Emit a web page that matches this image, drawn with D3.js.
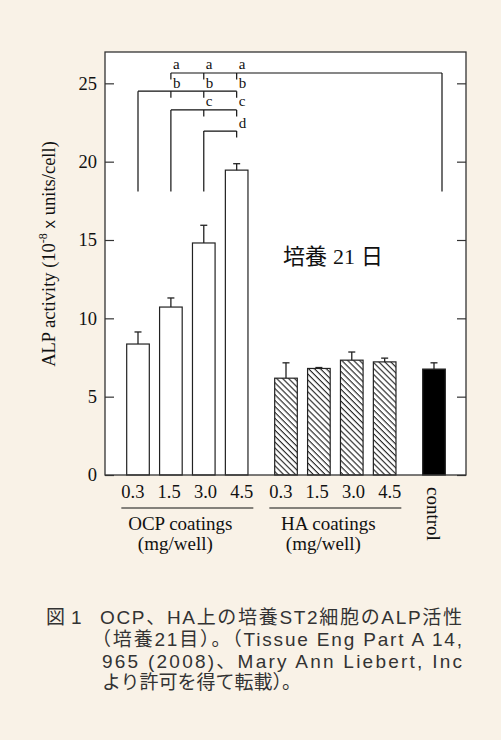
<!DOCTYPE html>
<html>
<head>
<meta charset="utf-8">
<script src="https://cdn.jsdelivr.net/npm/d3@7"></script>
<style>
  html, body { margin: 0; padding: 0; background: #f9f2e7; }
  svg { display: block; }
</style>
</head>
<body>
<script>
// ---------- data ----------
const doseLabels = ["0.3", "1.5", "3.0", "4.5"];
const ocpMeans   = [8.36, 10.72, 14.81, 19.46];
const ocpErrors  = [0.77, 0.58, 1.13, 0.41];
const haMeans    = [6.18, 6.80, 7.33, 7.22];
const haErrors   = [0.98, 0.06, 0.52, 0.24];
const controlMeans  = [6.76];
const controlErrors = [0.40];
const yTicks = [0, 5, 10, 15, 20, 25];
const groupTitles = ["OCP coatings", "HA coatings"];
const unitLabel = "(mg/well)";
const dayLabel = ["培養", "21", "日"];
// significance brackets (levels in data units)
const sigLetters = ["a", "b", "c", "d"];
const sigRefs    = ["control", "OCP 0.3", "OCP 1.5", "OCP 3.0"];
const sigTargets = [["OCP 1.5", "OCP 3.0", "OCP 4.5"], ["OCP 1.5", "OCP 3.0", "OCP 4.5"], ["OCP 3.0", "OCP 4.5"], ["OCP 4.5"]];
const sigLevels  = [25.66, 24.5, 23.3, 21.95];
const sigBase = 18.1;
const captionHead = ["図", "1"];
const captionLines = [
  "OCP、HA上の培養ST2細胞のALP活性",
  "（培養21目）。（Tissue Eng Part A 14,",
  "965 (2008)、Mary Ann Liebert, Inc",
  "より許可を得て転載）。"
];

// ---------- build bar table ----------
const bars = [];
doseLabels.forEach((d, i) => bars.push({key: "OCP " + d, group: "OCP", i, mean: ocpMeans[i], err: ocpErrors[i], slot: 2 * i}));
doseLabels.forEach((d, i) => bars.push({key: "HA " + d, group: "HA", i, mean: haMeans[i], err: haErrors[i], slot: 9 + 2 * i}));
bars.push({key: "control", group: "control", i: 0, mean: controlMeans[0], err: controlErrors[0], slot: 18});
const byKey = Object.fromEntries(bars.map(b => [b.key, b]));

const W = 501, H = 740;
const plot = {left: 105, right: 466, top: 52, bottom: 475};

const svg = d3.select("body").append("svg").attr("width", W).attr("height", H);
svg.append("rect").attr("width", W).attr("height", H).attr("fill", "#f9f2e7");

const defs = svg.append("defs");
const pat = defs.append("pattern").attr("id", "hatch").attr("patternUnits", "userSpaceOnUse")
  .attr("width", 4.2).attr("height", 4.2).attr("patternTransform", "rotate(45)");
pat.append("rect").attr("width", 4.2).attr("height", 4.2).attr("fill", "#fff");
pat.append("line").attr("x1", 0).attr("y1", 0.6).attr("x2", 4.2).attr("y2", 0.6).attr("stroke", "#111").attr("stroke-width", 1.05);

const y = d3.scaleLinear().domain([0, 27]).range([plot.bottom, plot.top]);
const x = d3.scaleLinear().domain([0, 18]).range([138, 434]);
const barW = (x(1) - x(0)) * 1.375;
const serif = "'Liberation Serif', 'Times New Roman', serif";

// plot background
svg.append("rect").attr("x", plot.left).attr("y", plot.top)
  .attr("width", plot.right - plot.left).attr("height", plot.bottom - plot.top).attr("fill", "#fff");

// bars
const fillFor = g => g === "OCP" ? "#fff" : g === "HA" ? "url(#hatch)" : "#000";
svg.append("g").selectAll("rect").data(bars).join("rect")
  .attr("x", d => x(d.slot) - barW / 2)
  .attr("y", d => y(d.mean))
  .attr("width", barW)
  .attr("height", d => y(0) - y(d.mean))
  .attr("fill", d => fillFor(d.group))
  .attr("stroke", "#222").attr("stroke-width", 1.2);

// error bars
const eb = svg.append("g").attr("stroke", "#222").attr("stroke-width", 1.3);
eb.selectAll("line.v").data(bars).join("line").attr("class", "v")
  .attr("x1", d => x(d.slot)).attr("x2", d => x(d.slot))
  .attr("y1", d => y(d.mean)).attr("y2", d => y(d.mean + d.err));
eb.selectAll("line.c").data(bars).join("line").attr("class", "c")
  .attr("x1", d => x(d.slot) - 3.5).attr("x2", d => x(d.slot) + 3.5)
  .attr("y1", d => y(d.mean + d.err)).attr("y2", d => y(d.mean + d.err));

// axes
const axL = d3.axisLeft(y).tickValues(yTicks).tickSizeInner(-9).tickSizeOuter(0).tickPadding(8);
const gL = svg.append("g").attr("transform", `translate(${plot.left},0)`).call(axL);
gL.select(".domain").remove();
gL.selectAll("line").attr("stroke", "#333").attr("stroke-width", 1.2);
gL.selectAll("text").attr("font-family", serif).attr("font-size", 18.5).attr("fill", "#111");
const axR = d3.axisRight(y).tickValues(yTicks).tickSizeInner(-9).tickSizeOuter(0).tickFormat("");
const gR = svg.append("g").attr("transform", `translate(${plot.right},0)`).call(axR);
gR.select(".domain").remove();
gR.selectAll("line").attr("stroke", "#333").attr("stroke-width", 1.2);

// frame
svg.append("rect").attr("x", plot.left).attr("y", plot.top)
  .attr("width", plot.right - plot.left).attr("height", plot.bottom - plot.top)
  .attr("fill", "none").attr("stroke", "#333").attr("stroke-width", 1.3);

// significance brackets
const sg = svg.append("g");
const drop = 6.5;
const refX = k => k === "control" ? x(byKey[k].slot) + 8 : x(byKey[k].slot);
sigLetters.forEach((L, j) => {
  const ly = y(sigLevels[j]);
  const rx = refX(sigRefs[j]);
  const txs = sigTargets[j].map(k => x(byKey[k].slot));
  const allX = [rx, ...txs];
  const x0 = d3.min(allX), x1 = d3.max(allX);
  sg.append("line").attr("x1", x0).attr("x2", x1).attr("y1", ly).attr("y2", ly)
    .attr("stroke", "#111").attr("stroke-width", 1.2);
  sg.append("line").attr("x1", rx).attr("x2", rx).attr("y1", ly).attr("y2", y(sigBase))
    .attr("stroke", "#111").attr("stroke-width", 1.2);
  txs.forEach(tx => {
    sg.append("line").attr("x1", tx).attr("x2", tx).attr("y1", ly).attr("y2", ly + drop)
      .attr("stroke", "#111").attr("stroke-width", 1.2);
    sg.append("text").attr("x", tx + 2).attr("y", ly - 3.5).text(L)
      .attr("font-family", serif).attr("font-size", 15).attr("fill", "#111");
  });
});

// day label
const dl = svg.append("text").attr("x", 283).attr("y", 264).attr("font-size", 22).attr("fill", "#111");
dl.append("tspan").attr("font-family", "'Noto Sans CJK JP', sans-serif").text(dayLabel[0]);
dl.append("tspan").attr("font-family", serif).attr("dx", 6).text(dayLabel[1]);
dl.append("tspan").attr("font-family", "'Noto Sans CJK JP', sans-serif").attr("dx", 6).text(dayLabel[2]);

// y axis title
const yt = svg.append("text").attr("transform", "translate(55,254) rotate(-90)")
  .attr("text-anchor", "middle").attr("font-family", serif).attr("font-size", 18.5).attr("fill", "#111");
yt.append("tspan").text("ALP activity (10");
yt.append("tspan").attr("font-size", 12).attr("dy", -8).text("-8");
yt.append("tspan").attr("dy", 8).attr("font-family", "'Liberation Sans', Arial, sans-serif").attr("font-size", 17).text(" x ");
yt.append("tspan").text("units/cell)");

// x labels for groups
["OCP", "HA"].forEach((g, gi) => {
  const gb = bars.filter(b => b.group === g);
  const cx = d3.mean(gb, b => x(b.slot));
  const lg = svg.append("g").attr("font-family", serif).attr("fill", "#111");
  lg.selectAll("text.t").data(gb).join("text").attr("class", "t")
    .attr("x", b => cx + (b.i - 1.5) * 36.3).attr("y", 498)
    .attr("text-anchor", "middle").attr("font-size", 18.5)
    .text(b => doseLabels[b.i]);
  lg.append("line").attr("x1", cx - 66).attr("x2", cx + 66).attr("y1", 508).attr("y2", 508)
    .attr("stroke", "#111").attr("stroke-width", 1.2);
  lg.append("text").attr("x", cx - 7).attr("y", 530).attr("text-anchor", "middle")
    .attr("font-size", 19).text(groupTitles[gi]);
  lg.append("text").attr("x", cx - 12).attr("y", 550).attr("text-anchor", "middle")
    .attr("font-size", 19).text(unitLabel);
});
svg.append("text").attr("transform", `translate(${x(byKey["control"].slot) - 1},487) rotate(90)`)
  .attr("dy", "0.32em").attr("font-family", serif).attr("font-size", 19).attr("fill", "#111")
  .text("control");

// caption (one text element, lines as tspans)
const cap = svg.append("text").attr("font-family", "'Liberation Sans', 'Noto Sans CJK JP', sans-serif")
  .attr("fill", "#333").attr("font-size", 19);
cap.append("tspan").attr("x", 46).attr("y", 624).text(captionHead[0]);
cap.append("tspan").attr("x", 71).attr("y", 624).text(captionHead[1]);
const capX = [100, 92, 102, 102];
const capRight = 462;
captionLines.forEach((t, i) => {
  const ts = cap.append("tspan").attr("x", capX[i]).attr("y", 624 + i * 21.8).text(t);
  if (i < 3) {
    const n = ts.node().getComputedTextLength();
    const ls = (capRight - capX[i] - n) / (t.length - 1);
    ts.attr("letter-spacing", ls);
  }
});
</script>
</body>
</html>
